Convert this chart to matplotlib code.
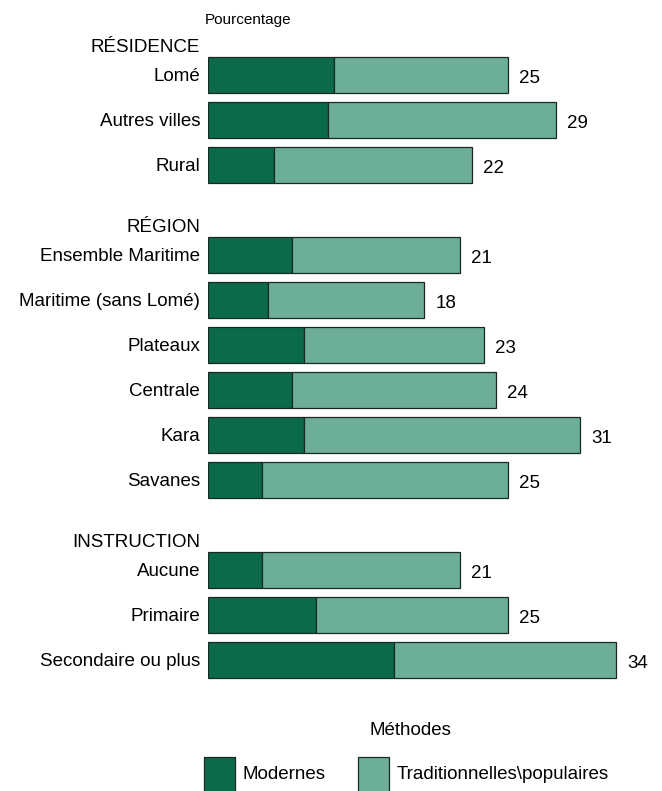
import matplotlib
matplotlib.use('Agg')
import matplotlib.pyplot as plt
from matplotlib.patches import Rectangle

plt.rcParams['font.family'] = ['Liberation Sans Narrow', 'Liberation Sans', 'DejaVu Sans']

# groups, categories and values (percent)
groups = ['RÉSIDENCE', 'RÉGION', 'INSTRUCTION']
categories = [
    ['Lomé', 'Autres villes', 'Rural'],
    ['Ensemble Maritime', 'Maritime (sans Lomé)', 'Plateaux', 'Centrale', 'Kara', 'Savanes'],
    ['Aucune', 'Primaire', 'Secondaire ou plus'],
]
modernes = [
    [10.5, 10.0, 5.5],
    [7.0, 5.0, 8.0, 7.0, 8.0, 4.5],
    [4.5, 9.0, 15.5],
]
totals = [
    [25, 29, 22],
    [21, 18, 23, 24, 31, 25],
    [21, 25, 34],
]

DARK = '#0b6b49'
LIGHT = '#6cae98'
EDGE = '#1a2a22'

W, H = 662, 791
fig = plt.figure(figsize=(W / 100, H / 100), dpi=100)
x0 = 208            # pixel where bars start
px_unit = 12        # pixels per percent
pitch = 45          # pixels per row
y_first = 75        # pixel centre of first row
ax = fig.add_axes([x0 / W, 0, 1 - x0 / W, 1])
ax.set_xlim(0, (W - x0) / px_unit)
ax.set_ylim((H - y_first) / pitch, -y_first / pitch)
ax.axis('off')

lab_x = -8 / px_unit
fs = 13.5
row = 0
for g, (name, cats, mods, tots) in enumerate(zip(groups, categories, modernes, totals)):
    ax.text(lab_x, row - 0.42, name, ha='right', va='bottom', fontsize=fs, clip_on=False)
    for cat, m, t in zip(cats, mods, tots):
        ax.barh(row, m, height=0.8, color=DARK, edgecolor=EDGE, lw=0.9)
        ax.barh(row, t - m, left=m, height=0.8, color=LIGHT, edgecolor=EDGE, lw=0.9)
        ax.text(lab_x, row + 0.04, cat, ha='right', va='center', fontsize=fs, clip_on=False)
        ax.text(t + 0.95, row + 0.07, str(t), ha='left', va='center', fontsize=fs)
        row += 1
    row += 1

ax.text(-0.25, -1.22, 'Pourcentage', ha='left', va='center', fontsize=11, clip_on=False)

# legend drawn by hand below the bars
ax.text((410 - x0) / px_unit, (731 - y_first) / pitch, 'Méthodes',
        ha='center', va='center', fontsize=fs)
leg_y = (757 - y_first) / pitch
leg_h = 36 / pitch
for px, label, col in [(204, 'Modernes', DARK), (358, 'Traditionnelles\\populaires', LIGHT)]:
    ax.add_patch(Rectangle(((px - x0) / px_unit, leg_y), 31 / px_unit, leg_h,
                           facecolor=col, edgecolor=EDGE, lw=0.9, clip_on=False))
    ax.text((px + 39 - x0) / px_unit, (775 - y_first) / pitch, label,
            ha='left', va='center', fontsize=fs, clip_on=False)

fig.savefig('out.png', dpi=100, facecolor='white')
